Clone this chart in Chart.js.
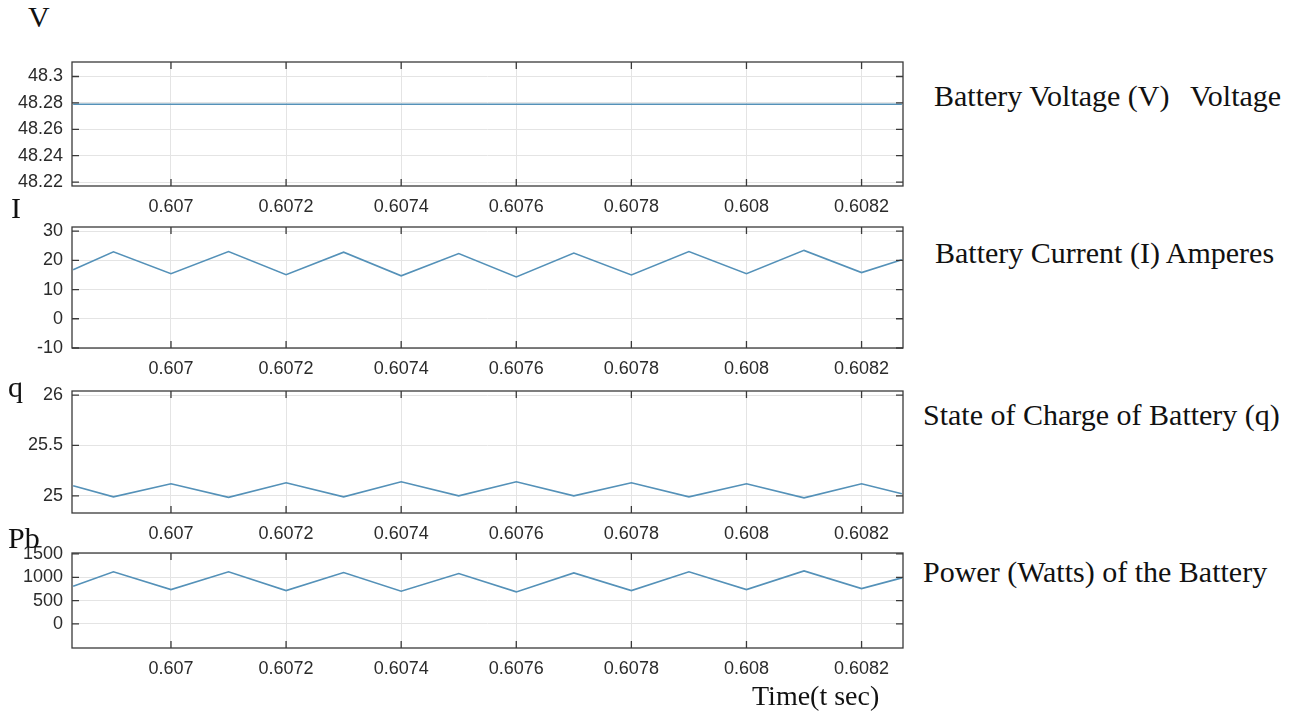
<!DOCTYPE html>
<html lang="en">
<head>
    <meta charset="UTF-8">
    <title>Battery Voltage, Current, SOC and Power</title>
    <script src="https://cdn.jsdelivr.net/npm/chart.js"></script>
    <style>
        body { margin: 0; background-color: #ffffff; }
        #page { position: relative; width: 1299px; height: 711px; overflow: hidden; background: #fff; }
        .panel { position: absolute; left: 0; }
        .lbl { position: absolute; font-family: "Liberation Serif", "Times New Roman", serif; font-size: 30px; line-height: 1; color: #111; white-space: nowrap; }
        .small { font-size: 28px; }
    </style>
</head>
<body>
<div id="page">
    <canvas id="voltChart" class="panel"></canvas>
    <canvas id="currChart" class="panel"></canvas>
    <canvas id="socChart" class="panel"></canvas>
    <canvas id="powerChart" class="panel"></canvas>

    <div class="lbl" style="left:28px; top:2px;">V</div>
    <div class="lbl" style="left:11px; top:193px;">I</div>
    <div class="lbl" style="left:8px; top:372px;">q</div>
    <div class="lbl" style="left:8px; top:523px;">Pb</div>

    <div class="lbl" style="left:934px; top:81px;">Battery Voltage (V)</div>
    <div class="lbl" style="left:1190px; top:81px;">Voltage</div>
    <div class="lbl" style="left:935px; top:238px;">Battery Current (I) Amperes</div>
    <div class="lbl" style="left:923px; top:400px;">State of Charge of Battery (q)</div>
    <div class="lbl" style="left:923px; top:557px;">Power (Watts) of the Battery</div>
    <div class="lbl small" style="left:752px; top:682px;">Time(t sec)</div>
</div>

<script>
    // time samples (s) at the corners of the ripple
    const timePoints = [0.60683, 0.6069, 0.6070, 0.6071, 0.6072, 0.6073, 0.6074, 0.6075,
                        0.6076, 0.6077, 0.6078, 0.6079, 0.6080, 0.6081, 0.6082, 0.60827];

    const voltageValues = [48.279, 48.279, 48.279, 48.279, 48.279, 48.279, 48.279, 48.279,
                           48.279, 48.279, 48.279, 48.279, 48.279, 48.279, 48.279, 48.279];
    const currentValues = [16.8, 22.9, 15.4, 23.0, 15.1, 22.8, 14.7, 22.3,
                           14.3, 22.5, 15.0, 23.0, 15.4, 23.4, 15.8, 20.2];
    const socValues = [25.10, 24.99, 25.12, 24.985, 25.13, 24.99, 25.14, 25.00,
                       25.14, 25.00, 25.13, 24.99, 25.12, 24.98, 25.12, 25.02];
    const powerValues = [807, 1116, 736, 1116, 715, 1100, 700, 1080,
                         687, 1094, 715, 1116, 736, 1137, 757, 987];

    const timeTicks = [0.607, 0.6072, 0.6074, 0.6076, 0.6078, 0.608, 0.6082];
    const timeTickLabels = ['0.607', '0.6072', '0.6074', '0.6076', '0.6078', '0.608', '0.6082'];

    const voltTicks = [48.22, 48.24, 48.26, 48.28, 48.3];
    const voltTickLabels = ['48.22', '48.24', '48.26', '48.28', '48.3'];
    const currTicks = [-10, 0, 10, 20, 30];
    const currTickLabels = ['-10', '0', '10', '20', '30'];
    const socTicks = [25, 25.5, 26];
    const socTickLabels = ['25', '25.5', '26'];
    const powerTicks = [0, 500, 1000, 1500];
    const powerTickLabels = ['0', '500', '1000', '1500'];

    const TIME_MIN = 0.606828, TIME_MAX = 0.608272;
    const LINE_COLOR = 'rgb(84, 145, 184)';
    const TICK_FONT = { family: '"Liberation Sans", Arial, Helvetica, sans-serif', size: 18 };

    // matlab-ish frame with inward tick marks on all four sides
    const boxFrame = {
        id: 'boxFrame',
        afterDraw(chart) {
            const { ctx, chartArea: a, scales } = chart;
            const len = 7;
            ctx.save();
            ctx.strokeStyle = '#3a3a3a';
            ctx.lineWidth = 1.3;
            ctx.strokeRect(a.left, a.top, a.right - a.left, a.bottom - a.top);
            ctx.beginPath();
            scales.x.ticks.forEach(t => {
                const px = scales.x.getPixelForValue(t.value);
                ctx.moveTo(px, a.bottom); ctx.lineTo(px, a.bottom - len);
                ctx.moveTo(px, a.top); ctx.lineTo(px, a.top + len);
            });
            scales.y.ticks.forEach(t => {
                const py = scales.y.getPixelForValue(t.value);
                ctx.moveTo(a.left, py); ctx.lineTo(a.left + len, py);
                ctx.moveTo(a.right, py); ctx.lineTo(a.right - len, py);
            });
            ctx.stroke();
            ctx.restore();
        }
    };

    function makePanel(id, top, height, values, yMin, yMax, yTicks, yLabels) {
        // the y labels ask for ~20px above the plot, so leave a bit more than that
        const padTop = 24;
        const axisH = 40;
        const canvas = document.getElementById(id);
        canvas.width = 915;
        canvas.height = height + padTop + axisH;
        canvas.style.top = (top - padTop) + 'px';

        return new Chart(canvas.getContext('2d'), {
            type: 'line',
            data: {
                datasets: [{
                    data: timePoints.map((t, i) => ({ x: t, y: values[i] })),
                    borderColor: LINE_COLOR,
                    borderWidth: 1.6,
                    pointRadius: 0,
                    tension: 0,
                    fill: false
                }]
            },
            options: {
                responsive: false,
                animation: false,
                layout: { padding: { top: padTop, right: 12, bottom: 0, left: 0 } },
                plugins: { legend: { display: false }, tooltip: { enabled: false } },
                scales: {
                    x: {
                        type: 'linear',
                        min: TIME_MIN,
                        max: TIME_MAX,
                        afterBuildTicks: s => { s.ticks = timeTicks.map(v => ({ value: v })); },
                        afterFit: s => { s.height = axisH; },
                        grid: { color: '#e4e4e4', lineWidth: 1, drawTicks: false },
                        border: { display: false },
                        ticks: {
                            autoSkip: false, maxRotation: 0, padding: 10,
                            color: '#2b2b2b', font: TICK_FONT,
                            callback: (v, i) => timeTickLabels[i]
                        }
                    },
                    y: {
                        min: yMin,
                        max: yMax,
                        afterBuildTicks: s => { s.ticks = yTicks.map(v => ({ value: v })); },
                        afterFit: s => { s.width = 72; },
                        grid: { color: '#e4e4e4', lineWidth: 1, drawTicks: false },
                        border: { display: false },
                        ticks: {
                            autoSkip: false, padding: 9,
                            color: '#2b2b2b', font: TICK_FONT,
                            callback: (v, i) => yLabels[i]
                        }
                    }
                }
            },
            plugins: [boxFrame]
        });
    }

    makePanel('voltChart', 62, 124, voltageValues, 48.217, 48.311, voltTicks, voltTickLabels);
    makePanel('currChart', 227, 121, currentValues, -10, 31.4, currTicks, currTickLabels);
    makePanel('socChart', 391, 122, socValues, 24.83, 26.04, socTicks, socTickLabels);
    makePanel('powerChart', 553, 95, powerValues, -515, 1520, powerTicks, powerTickLabels);
</script>
</body>
</html>
